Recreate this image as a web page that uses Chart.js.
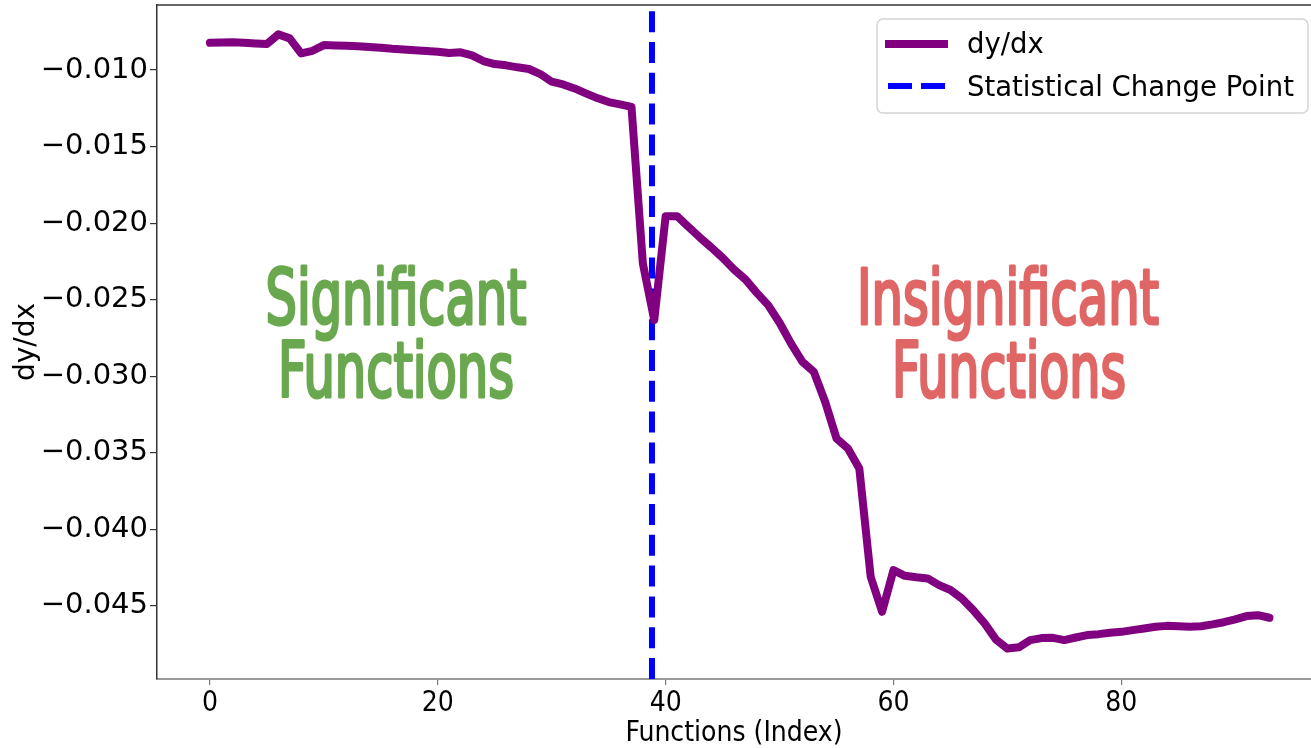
<!DOCTYPE html>
<html>
<head>
<meta charset="utf-8">
<script src="https://cdn.jsdelivr.net/npm/chart.js@4.4.1/dist/chart.umd.min.js"></script>
<style>
  html, body { margin: 0; padding: 0; background: #fff; }
  #wrap { width: 1311px; height: 748px; position: relative; }
</style>
</head>
<body>
<div id="wrap"><canvas id="chart"></canvas></div>
<script>
// dy/dx per function index (0..93)
const dydx = [
  -0.00822, -0.00820, -0.00819, -0.00822, -0.00826, -0.00830, -0.00767, -0.00793, -0.00891, -0.00874,
  -0.00837, -0.00839, -0.00841, -0.00845, -0.00850, -0.00854, -0.00861, -0.00865, -0.00871, -0.00876,
  -0.00880, -0.00889, -0.00884, -0.00904, -0.00941, -0.00961, -0.00969, -0.00982, -0.00993, -0.01026,
  -0.01076, -0.01094, -0.01120, -0.01152, -0.01183, -0.01209, -0.01224, -0.01240, -0.02263, -0.02633,
  -0.01954, -0.01954, -0.02024, -0.02093, -0.02158, -0.02226, -0.02302, -0.02367, -0.02455, -0.02535,
  -0.02650, -0.02785, -0.02905, -0.02970, -0.03166, -0.03406, -0.03471, -0.03602, -0.04310, -0.04538,
  -0.04266, -0.04303, -0.04313, -0.04320, -0.04364, -0.04396, -0.04451, -0.04527, -0.04614, -0.04720,
  -0.04778, -0.04770, -0.04723, -0.04710, -0.04708, -0.04723, -0.04706, -0.04690, -0.04684, -0.04675,
  -0.04669, -0.04658, -0.04647, -0.04636, -0.04630, -0.04632, -0.04636, -0.04632, -0.04620, -0.04606,
  -0.04588, -0.04566, -0.04560, -0.04577
];
const changePoint = 38.8;

const xTicks = [0, 20, 40, 60, 80];
const yTicks = [-0.045, -0.040, -0.035, -0.030, -0.025, -0.020, -0.015, -0.010];

const seriesLabels = ['dy/dx', 'Statistical Change Point'];
const regionLabels = [['Significant', 'Functions'], ['Insignificant', 'Functions']];

// axis window (matplotlib-style margins; right side cropped in the reference)
const xMin = -4.65, xMax = 96.65;
const yMin = -0.04977, yMax = -0.00575;

const purple = '#800080';
const blue = '#0000ff';

const fmtMinus = (v) => (v < 0 ? '\u2212' : '') + Math.abs(v).toFixed(3);

// condensed display text, stretched to the width seen in the reference
function drawFitted(ctx, text, cx, baseline, width, color) {
  ctx.save();
  ctx.font = '76px "Liberation Sans Narrow", "DejaVu Sans Condensed", sans-serif';
  const w = ctx.measureText(text).width;
  ctx.translate(cx, baseline);
  ctx.scale(width / w, 1);
  ctx.textAlign = 'center';
  ctx.textBaseline = 'alphabetic';
  ctx.fillStyle = color;
  ctx.strokeStyle = color;
  ctx.lineWidth = 3.2;
  ctx.lineJoin = 'round';
  ctx.fillText(text, 0, 0);
  ctx.strokeText(text, 0, 0);
  ctx.restore();
}

const overlay = {
  id: 'overlay',
  afterDatasetsDraw(chart) {
    const { ctx, chartArea } = chart;
    // top spine
    ctx.save();
    ctx.strokeStyle = '#333';
    ctx.lineWidth = 1.5;
    ctx.beginPath();
    ctx.moveTo(chartArea.left, chartArea.top);
    ctx.lineTo(chartArea.right, chartArea.top);
    ctx.stroke();
    ctx.restore();

    // region labels
    drawFitted(ctx, regionLabels[0][0], 396, 324, 261, '#6aa84f');
    drawFitted(ctx, regionLabels[0][1], 396, 397, 236, '#6aa84f');
    drawFitted(ctx, regionLabels[1][0], 1008, 324, 302, '#e06666');
    drawFitted(ctx, regionLabels[1][1], 1009, 397, 234, '#e06666');
  },
  afterDraw(chart) {
    const { ctx } = chart;
    ctx.save();
    // legend frame
    ctx.fillStyle = 'rgba(255,255,255,0.8)';
    ctx.strokeStyle = '#d4d4d4';
    ctx.lineWidth = 1.5;
    ctx.beginPath();
    ctx.roundRect(877, 19, 431, 94, 6);
    ctx.fill();
    ctx.stroke();

    // line samples
    ctx.lineCap = 'butt';
    ctx.strokeStyle = purple;
    ctx.lineWidth = 8;
    ctx.beginPath();
    ctx.moveTo(885, 44);
    ctx.lineTo(948, 44);
    ctx.stroke();

    ctx.strokeStyle = blue;
    ctx.lineWidth = 6;
    ctx.beginPath();
    ctx.moveTo(888, 86); ctx.lineTo(912, 86);
    ctx.moveTo(921, 86); ctx.lineTo(945, 86);
    ctx.stroke();

    ctx.fillStyle = '#000';
    ctx.font = '27.5px "DejaVu Sans", sans-serif';
    ctx.textAlign = 'left';
    ctx.textBaseline = 'alphabetic';
    ctx.fillText(seriesLabels[0], 967, 53);
    ctx.fillText(seriesLabels[1], 967, 96);
    ctx.restore();
  }
};

new Chart(document.getElementById('chart'), {
  type: 'line',
  data: {
    datasets: [
      {
        label: seriesLabels[0],
        data: dydx.map((v, i) => ({ x: i, y: v })),
        borderColor: purple,
        borderWidth: 8,
        borderJoinStyle: 'round',
        borderCapStyle: 'round',
        pointRadius: 0,
        tension: 0
      },
      {
        label: seriesLabels[1],
        data: [{ x: changePoint, y: yMin }, { x: changePoint, y: yMax }],
        borderColor: blue,
        borderWidth: 6,
        borderDash: [21, 9.8],
        borderCapStyle: 'butt',
        pointRadius: 0
      }
    ]
  },
  options: {
    responsive: true,
    maintainAspectRatio: false,
    animation: false,
    layout: { padding: { top: 5, right: 0, left: 0, bottom: 0 } },
    plugins: { legend: { display: false }, tooltip: { enabled: false } },
    scales: {
      x: {
        type: 'linear',
        min: xMin,
        max: xMax,
        afterBuildTicks: (s) => { s.ticks = xTicks.map(v => ({ value: v })); },
        afterFit: (s) => { s.height = 69; s.paddingLeft = 0; s.paddingRight = 0; },
        grid: { drawOnChartArea: false, drawTicks: true, tickLength: 6, color: '#777', lineWidth: 1.2 },
        border: { display: true, color: '#999', width: 2 },
        ticks: {
          color: '#000',
          padding: 2,
          maxRotation: 0,
          font: { family: '"DejaVu Sans Condensed", "DejaVu Sans", sans-serif', size: 28 },
          callback: (v) => String(v)
        },
        title: {
          display: true,
          text: 'Functions (Index)',
          color: '#000',
          padding: { top: 0, bottom: 0 },
          font: { family: '"DejaVu Sans Condensed", "DejaVu Sans", sans-serif', size: 28, lineHeight: 1 }
        }
      },
      y: {
        type: 'linear',
        min: yMin,
        max: yMax,
        afterBuildTicks: (s) => { s.ticks = yTicks.map(v => ({ value: v })); },
        afterFit: (s) => { s.width = 157; s.paddingTop = 0; s.paddingBottom = 0; },
        grid: { drawOnChartArea: false, drawTicks: true, tickLength: 7, color: '#333', lineWidth: 1.2 },
        border: { display: true, color: '#333', width: 1.5 },
        ticks: {
          color: '#000',
          padding: 2,
          font: { family: '"DejaVu Sans", sans-serif', size: 29 },
          callback: (v) => fmtMinus(v)
        },
        title: {
          display: true,
          text: 'dy/dx',
          color: '#000',
          padding: { top: 13, bottom: 0 },
          font: { family: '"DejaVu Sans", sans-serif', size: 28, lineHeight: 1 }
        }
      }
    }
  },
  plugins: [overlay]
});
</script>
</body>
</html>
